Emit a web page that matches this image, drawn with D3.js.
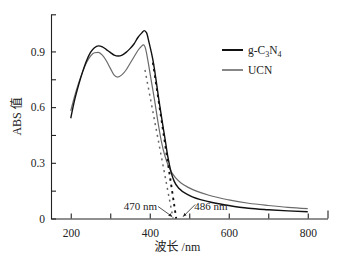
<!DOCTYPE html>
<html>
<head>
<meta charset="utf-8">
<script src="https://cdn.jsdelivr.net/npm/d3@7"></script>
<style>
  body { margin: 0; background: #fff; }
  svg text { font-family: "Liberation Serif", "Noto Sans CJK SC", serif; fill: #222; }
</style>
</head>
<body>
<svg id="chart" width="341" height="264"></svg>
<script>
// wavelength (nm) / absorbance
const gcnWave = [200,210,220,230,240,250,260,270,280,290,300,310,320,330,340,350,360,370,380,386,392,398,408,415,423,431,439,446,454,462,475,500,550,600,650,700,750,800];
const gcnAbs  = [0.54,0.64,0.72,0.79,0.85,0.895,0.92,0.93,0.925,0.91,0.895,0.88,0.875,0.88,0.895,0.915,0.94,0.975,1.0,1.012,1.0,0.95,0.854,0.76,0.64,0.53,0.425,0.33,0.25,0.2,0.16,0.125,0.09,0.07,0.055,0.047,0.041,0.036];

const ucnWave = [200,210,220,230,240,250,260,270,280,290,300,310,318,330,340,350,360,370,378,384,390,395,404,412,420,429,438,446,455,465,480,500,550,600,650,700,750,800];
const ucnAbs  = [0.58,0.66,0.73,0.79,0.84,0.875,0.893,0.895,0.88,0.85,0.81,0.772,0.762,0.775,0.80,0.835,0.87,0.905,0.925,0.935,0.91,0.854,0.74,0.64,0.53,0.42,0.34,0.29,0.25,0.22,0.19,0.165,0.125,0.1,0.082,0.07,0.06,0.053];

// tangent lines used for the absorption edge
const gcnEdge = [[408, 0.84], [467, 0]];
const ucnEdge = [[388, 0.80], [459, 0]];

const seriesNames = ["g-C3N4", "UCN"];
const edgeLabels = ["470 nm", "486 nm"];
const xTicks = [200,300,400,500,600,700,800,850];
const yTicks = [0,0.15,0.3,0.45,0.6,0.75,0.9,1.1];

let svg = d3.select("svg#chart");

let x = d3.scaleLinear().domain([150, 850]).range([51, 327.5]);
let y = d3.scaleLinear().domain([0, 1.1]).range([218.5, 14.3]);

// axes, ticks pointing inward
let xAxis = svg.append("g")
  .attr("transform", "translate(0," + y(0) + ")")
  .call(d3.axisBottom(x).tickValues(xTicks).tickSizeInner(-5).tickSizeOuter(0)
        .tickFormat(function(d) { return (d % 200 === 0) ? d : ""; }));
xAxis.selectAll("text").attr("dy", null).attr("y", 18).style("font-size", "11.5px");
xAxis.selectAll(".tick").filter(function(d) { return d === 850; })
  .select("line").attr("y2", -8);

let yAxis = svg.append("g")
  .attr("transform", "translate(" + x(150) + ",0)")
  .call(d3.axisLeft(y).tickValues(yTicks).tickSizeInner(-5).tickSizeOuter(0)
        .tickFormat(function(d) { return [0, 0.3, 0.6, 0.9].indexOf(d) >= 0 ? (d === 0 ? "0" : d3.format(".1f")(d)) : ""; }));
yAxis.selectAll("text").attr("x", -6).style("font-size", "11.5px");

svg.selectAll(".domain, .tick line").attr("stroke", "#222").attr("stroke-width", 1.1);

// axis titles
svg.append("text")
  .attr("x", x(470)).attr("y", 251)
  .attr("text-anchor", "middle")
  .style("font-size", "12px")
  .text("波长 /nm");

svg.append("text")
  .attr("transform", "translate(21," + y(0.55) + ") rotate(-90)")
  .attr("text-anchor", "middle")
  .style("font-size", "12px")
  .text("ABS 值");

// curves
let line = d3.line()
  .x(function(d) { return x(d[0]); })
  .y(function(d) { return y(d[1]); })
  .curve(d3.curveMonotoneX);

let ucnData = d3.zip(ucnWave, ucnAbs);
let gcnData = d3.zip(gcnWave, gcnAbs);

svg.append("path").datum(ucnData)
  .attr("d", line).attr("fill", "none")
  .attr("stroke", "#6a6a6a").attr("stroke-width", 1.2);

svg.append("path").datum(gcnData)
  .attr("d", line).attr("fill", "none")
  .attr("stroke", "#111").attr("stroke-width", 1.4);

// dashed edge tangents
let straight = d3.line()
  .x(function(d) { return x(d[0]); })
  .y(function(d) { return y(d[1]); });

svg.append("path").datum(ucnEdge)
  .attr("d", straight).attr("fill", "none")
  .attr("stroke", "#666").attr("stroke-width", 1.5)
  .attr("stroke-dasharray", "2,4");

svg.append("path").datum(gcnEdge)
  .attr("d", straight).attr("fill", "none")
  .attr("stroke", "#111").attr("stroke-width", 1.9)
  .attr("stroke-dasharray", "2.5,4");

// edge labels + arrows
svg.append("defs").append("marker")
  .attr("id", "arr").attr("viewBox", "0 0 10 10")
  .attr("refX", 9).attr("refY", 5)
  .attr("markerWidth", 5).attr("markerHeight", 5)
  .attr("orient", "auto")
  .append("path").attr("d", "M0,1 L10,5 L0,9 z").attr("fill", "#222");

let leftX = x(ucnEdge[1][0]), rightX = x(gcnEdge[1][0]);

svg.append("text")
  .attr("x", leftX - 16).attr("y", y(0) - 9)
  .attr("text-anchor", "end").style("font-size", "11px")
  .text(edgeLabels[0]);
svg.append("line")
  .attr("x1", leftX - 15).attr("y1", y(0) - 12)
  .attr("x2", leftX - 1).attr("y2", y(0) - 2)
  .attr("stroke", "#222").attr("stroke-width", 0.8)
  .attr("marker-end", "url(#arr)");

svg.append("text")
  .attr("x", rightX + 18).attr("y", y(0) - 9)
  .attr("text-anchor", "start").style("font-size", "11px")
  .text(edgeLabels[1]);
svg.append("line")
  .attr("x1", rightX + 19).attr("y1", y(0) - 14)
  .attr("x2", rightX + 7).attr("y2", y(0) - 2)
  .attr("stroke", "#222").attr("stroke-width", 0.8)
  .attr("marker-end", "url(#arr)");

// legend
let legend = svg.append("g").attr("class", "legend");
let legendColors = ["#111", "#6a6a6a"];
let legendWidths = [2, 1.6];

legend.selectAll("line").data(seriesNames).enter().append("line")
  .attr("x1", 222).attr("x2", 243)
  .attr("y1", function(d, i) { return 50 + 20 * i; })
  .attr("y2", function(d, i) { return 50 + 20 * i; })
  .attr("stroke", function(d, i) { return legendColors[i]; })
  .attr("stroke-width", function(d, i) { return legendWidths[i]; });

let t1 = legend.append("text").attr("x", 248).attr("y", 54).style("font-size", "11.5px");
t1.append("tspan").text("g-C");
t1.append("tspan").attr("dy", 3).style("font-size", "8px").text("3");
t1.append("tspan").attr("dy", -3).text("N");
t1.append("tspan").attr("dy", 3).style("font-size", "8px").text("4");

legend.append("text").attr("x", 248).attr("y", 74).style("font-size", "11.5px")
  .text(seriesNames[1]);
</script>
</body>
</html>
